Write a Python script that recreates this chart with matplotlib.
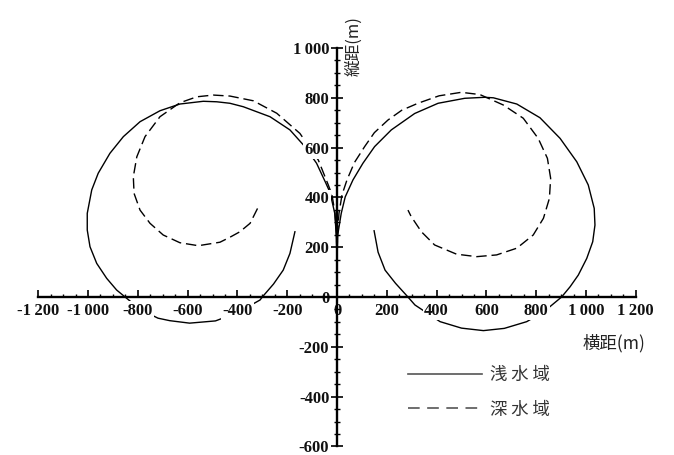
import matplotlib
matplotlib.use("Agg")
import matplotlib.pyplot as plt
from matplotlib.lines import Line2D
from matplotlib.ticker import FixedLocator, FixedFormatter

# ---------------- data (metres) ----------------
shallow_right_x = [0, 0, 3, 17, 33, 64, 104, 151, 218, 312, 406, 513, 593, 628, 722, 815,
                   896, 963, 1009, 1033, 1036, 1027, 1003, 969, 936, 902, 832, 762, 672,
                   588, 500, 414, 313, 285, 235, 193, 165, 149]
shallow_right_y = [0, 150, 250, 336, 402, 470, 537, 604, 671, 737, 778, 798, 802, 800, 775, 720,
                   637, 543, 450, 356, 289, 222, 155, 88, 41, 0, -58, -99, -126,
                   -135, -125, -99, -32, 0, 55, 108, 180, 266]

deep_right_x = [0, 0, 2, 8, 20, 40, 70, 111, 150, 205, 260, 325, 410, 499, 574, 668, 748,
                808, 845, 858, 853, 829, 788, 722, 641, 561, 480, 392, 339, 298, 285]
deep_right_y = [0, 150, 250, 336, 410, 470, 540, 604, 660, 711, 750, 778, 808, 822, 813, 771, 718,
                637, 557, 477, 396, 316, 249, 196, 169, 162, 172, 209, 262, 323, 349]

shallow_left_x = [0, 0, -3, -9, -28, -46, -82, -129, -189, -269, -376, -430, -483, -537,
                  -631, -711, -791, -858, -912, -959, -985, -1003, -1003, -992, -965, -925,
                  -885, -851, -790, -719, -672, -592, -488, -400, -309, -300, -255, -216,
                  -189, -169]
shallow_left_y = [0, 150, 250, 336, 420, 460, 537, 604, 671, 724, 764, 778, 784, 786,
                  775, 748, 704, 644, 577, 497, 430, 336, 269, 202, 135, 75,
                  28, 0, -50, -85, -95, -105, -96, -63, -12, 0, 52, 108,
                  175, 262]

deep_left_x = [0, 0, -2, -8, -20, -35, -75, -149, -242, -336, -430, -497, -563, -631, -711,
               -771, -804, -818, -815, -791, -751, -698, -631, -557, -470, -430, -390,
               -349, -319]
deep_left_y = [0, 150, 250, 336, 410, 450, 550, 657, 738, 788, 807, 811, 804, 780, 724,
               644, 563, 483, 416, 349, 296, 249, 218, 206, 220, 240, 262,
               296, 356]

major_ticks_x = [-1200, -1000, -800, -600, -400, -200, 0, 200, 400, 600, 800, 1000, 1200]
major_labels_x = ["-1\u2009200", "-1\u2009000", "-800", "-600", "-400", "-200", "0",
                  "200", "400", "600", "800", "1\u2009000", "1\u2009200"]
major_ticks_y = [-600, -400, -200, 0, 200, 400, 600, 800, 1000]
major_labels_y = ["-600", "-400", "-200", "0", "200", "400", "600", "800", "1\u2009000"]

legend_labels = ["浅 水 域", "深 水 域"]
xlabel_text = "横距(m)"
ylabel_text = "縦距(m)"

# ---------------- figure ----------------
W, H = 674, 455
fig = plt.figure(figsize=(W / 100, H / 100), dpi=100)
ax = fig.add_axes([0, 0, 1, 1])
scale = 0.249  # px per metre
ox, oy = 337, 297
ax.set_xlim(-ox / scale, (W - ox) / scale)
ax.set_ylim(-(H - oy) / scale, oy / scale)

lw = 1.0
dash = (7.5, 3.5)
for xs, ys in [(shallow_right_x, shallow_right_y), (shallow_left_x, shallow_left_y)]:
    ax.plot(xs, ys, color="black", lw=lw, zorder=1.5, solid_joinstyle="round")
for xs, ys in [(deep_right_x, deep_right_y), (deep_left_x, deep_left_y)]:
    ax.plot(xs, ys, color="black", lw=lw, zorder=1.5, dashes=dash)

# spines through origin
for s in ["top", "right"]:
    ax.spines[s].set_visible(False)
ax.spines["left"].set_position(("data", 0))
ax.spines["bottom"].set_position(("data", 0))
ax.spines["left"].set_bounds(-600, 1000)
ax.spines["bottom"].set_bounds(-1200, 1200)
ax.spines["left"].set_linewidth(1.7)
ax.spines["bottom"].set_linewidth(1.7)

ax.xaxis.set_ticks_position("bottom")
ax.yaxis.set_ticks_position("left")
ax.xaxis.set_major_locator(FixedLocator(major_ticks_x))
ax.xaxis.set_major_formatter(FixedFormatter(major_labels_x))
ax.yaxis.set_major_locator(FixedLocator(major_ticks_y))
ax.yaxis.set_major_formatter(FixedFormatter(major_labels_y))
minor_x = [v for v in range(-1200, 1201, 50) if v % 200 != 0]
minor_y = [v for v in range(-600, 1001, 50) if v % 200 != 0]
ax.xaxis.set_minor_locator(FixedLocator(minor_x))
ax.yaxis.set_minor_locator(FixedLocator(minor_y))

ax.tick_params(axis="x", which="major", direction="in", length=5, width=1.2, pad=4.0)
ax.tick_params(axis="x", which="minor", direction="in", length=2.5, width=1.0)
ax.tick_params(axis="y", which="major", direction="inout", length=9, width=1.2, pad=1.0)
ax.tick_params(axis="y", which="minor", direction="inout", length=5, width=1.0)

for lbl in ax.get_xticklabels() + ax.get_yticklabels():
    lbl.set_fontfamily("Liberation Serif")
    lbl.set_fontweight("bold")
    lbl.set_fontsize(12)
    lbl.set_color("#111111")
    lbl.set_bbox(dict(facecolor="white", edgecolor="none", pad=0.8))

cjk = ["Noto Sans CJK JP", "DejaVu Sans"]
fig.text(583 / W, 1 - 343 / H, xlabel_text, family=cjk, fontsize=12.5,
         ha="left", va="center", color="#222222")
fig.text(354 / W, 1 - 46 / H, ylabel_text, family=cjk, fontsize=12,
         ha="center", va="center", rotation=90, color="#222222")

handles = [Line2D([], [], color="#555555", lw=1.2),
           Line2D([], [], color="#555555", lw=1.2, dashes=(7, 4.5))]
leg = ax.legend(handles, legend_labels, loc="upper left",
                bbox_to_anchor=(408 / W, 1 - 366 / H), bbox_transform=fig.transFigure,
                frameon=False, borderpad=0, borderaxespad=0, handlelength=4.25,
                handletextpad=0.5, labelspacing=0.95,
                prop=dict(family=cjk, size=12.5))
for t in leg.get_texts():
    t.set_color("#333333")

fig.savefig("out.png", dpi=100)
